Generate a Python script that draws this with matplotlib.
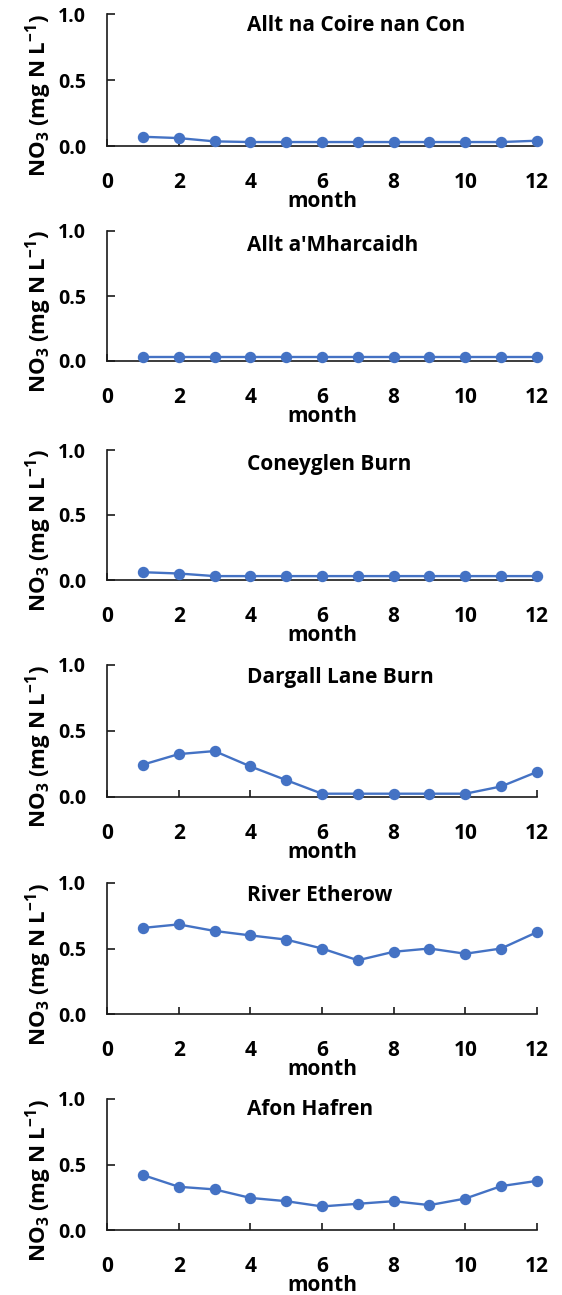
import matplotlib
matplotlib.use("Agg")
import matplotlib.pyplot as plt

plt.rcParams['font.family'] = ['Open Sans', 'DejaVu Sans']
plt.rcParams['mathtext.fontset'] = 'custom'
plt.rcParams['mathtext.rm'] = 'Open Sans:bold'
plt.rcParams['mathtext.bf'] = 'Open Sans:bold'
plt.rcParams['mathtext.it'] = 'Open Sans:bold'
plt.rcParams['mathtext.sf'] = 'Open Sans:bold'

months = list(range(1, 13))
titles = ["Allt na Coire nan Con", "Allt a'Mharcaidh", "Coneyglen Burn",
          "Dargall Lane Burn", "River Etherow", "Afon Hafren"]
allt_na_coire = [0.07, 0.06, 0.035, 0.03, 0.03, 0.03, 0.03, 0.03, 0.03, 0.03, 0.03, 0.04]
allt_mharcaidh = [0.03, 0.03, 0.03, 0.03, 0.03, 0.03, 0.03, 0.03, 0.03, 0.03, 0.03, 0.03]
coneyglen = [0.06, 0.05, 0.03, 0.03, 0.03, 0.03, 0.03, 0.03, 0.03, 0.03, 0.03, 0.03]
dargall = [0.245, 0.325, 0.348, 0.232, 0.128, 0.025, 0.025, 0.025, 0.025, 0.025, 0.08, 0.19]
etherow = [0.657, 0.684, 0.634, 0.600, 0.568, 0.500, 0.410, 0.475, 0.500, 0.460, 0.500, 0.625]
hafren = [0.42, 0.33, 0.31, 0.245, 0.22, 0.18, 0.20, 0.22, 0.19, 0.24, 0.335, 0.375]
series = [allt_na_coire, allt_mharcaidh, coneyglen, dargall, etherow, hafren]

x_ticks = [0, 2, 4, 6, 8, 10, 12]
y_ticks = [0.0, 0.5, 1.0]
y_ticklabels = ["0.0", "0.5", "1.0"]
x_label = "month"
y_label = r"NO$_{\mathbf{3}}$ (mg N L$^{\mathbf{-1}}$)"

W, H = 562, 1295
fig = plt.figure(figsize=(W / 100, H / 100), dpi=100)

def fx(px):
    return px / W

def fy(py):
    return 1 - py / H

# (pixel row of 1.0, pixel row of 0.0)
panel_px = [(14, 146), (231, 361), (450, 580), (665, 797), (883, 1014), (1099, 1230)]
title_base = [17, 20, 20, 18, 18, 16]
left_px, right_px = 107, 537
color = "#4472C4"

for i, (ys, title) in enumerate(zip(series, titles)):
    top, bot = panel_px[i]
    ax = fig.add_axes([fx(left_px), fy(bot), (right_px - left_px) / W, (bot - top) / H])
    ax.plot(months, ys, color=color, lw=1.7, marker='o', ms=7.2, zorder=3, clip_on=False)
    ax.set_xlim(0, 12)
    ax.set_ylim(0, 1.0)
    ax.set_xticks(x_ticks)
    ax.set_yticks(y_ticks)
    ax.set_yticklabels(y_ticklabels)
    for s in ['top', 'right']:
        ax.spines[s].set_visible(False)
    for s in ['left', 'bottom']:
        ax.spines[s].set_linewidth(1.2)
        ax.spines[s].set_color('#1a1a1a')
    ax.tick_params(axis='x', direction='in', length=5, width=1.2, pad=18.5,
                   labelsize=15, color='#1a1a1a')
    ax.tick_params(axis='y', direction='in', length=5.5, width=1.2, pad=15,
                   labelsize=14, color='#1a1a1a')
    for lab in ax.get_xticklabels() + ax.get_yticklabels():
        lab.set_fontweight('bold')
    # x label
    fig.text(fx((left_px + right_px) / 2), fy(bot + 61), x_label, fontsize=15,
             fontweight='bold', ha='center', va='baseline')
    # y label
    fig.text(fx(39), fy((top + bot) / 2 + 16), y_label, fontsize=16,
             fontweight='bold', rotation=90, ha='center', va='center')
    # title
    fig.text(fx(247), fy(top + title_base[i]), title, fontsize=15,
             fontweight='bold', ha='left', va='baseline')

fig.savefig("out.png", dpi=100)
